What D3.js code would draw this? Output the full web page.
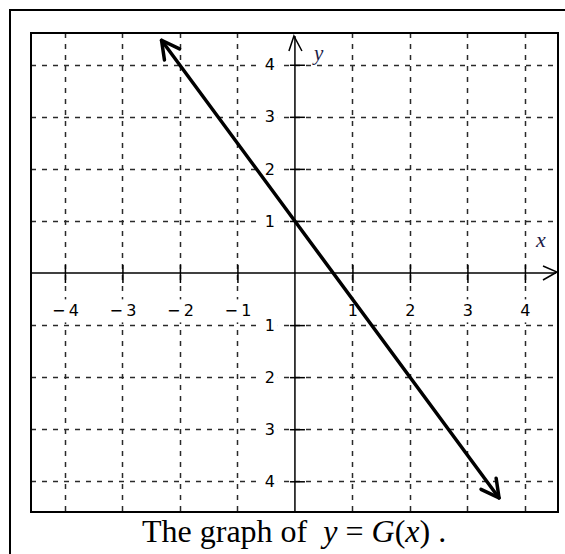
<!DOCTYPE html>
<html><head><meta charset="utf-8">
<script src="https://cdn.jsdelivr.net/npm/d3@7"></script>
<style>
html,body{margin:0;padding:0;background:#fff;}
svg{display:block;}
</style></head>
<body>
<script>
// ---- data ----
const xDomain = [-4.59, 4.575];
const yDomain = [-4.59, 4.61];
const xTicks = [-4, -3, -2, -1, 1, 2, 3, 4];
const xTickLabels = ["\u2212\u20094", "\u2212\u20093", "\u2212\u20092", "\u2212\u20091", "1", "2", "3", "4"];
const yTicks = [4, 3, 2, 1, -1, -2, -3, -4];
const yTickLabels = ["4", "3", "2", "1", "1", "2", "3", "4"];
const linePoints = [[-2.32, 4.47], [3.55, -4.32]];
const xAxisLabel = "x";
const yAxisLabel = "y";

const W = 565, H = 554;
const plot = {left: 31, right: 558, top: 33, bottom: 512};

const svg = d3.select("body").append("svg").attr("width", W).attr("height", H);
svg.append("rect").attr("width", W).attr("height", H).attr("fill", "#fff");

// outer frame
svg.append("rect").attr("x", 10).attr("y", 10).attr("width", 570).attr("height", 560)
  .attr("fill", "none").attr("stroke", "#000").attr("stroke-width", 2);

const x = d3.scaleLinear().domain(xDomain).range([plot.left, plot.right]);
const y = d3.scaleLinear().domain(yDomain).range([plot.bottom, plot.top]);

// grid
const grid = svg.append("g").attr("stroke", "#2a2a2a").attr("stroke-width", 1.5)
  .attr("stroke-dasharray", "5,6");
grid.selectAll("line.v").data(xTicks).join("line").attr("class", "v")
  .attr("x1", d => Math.round(x(d)) + 0.5).attr("x2", d => Math.round(x(d)) + 0.5)
  .attr("y1", plot.top).attr("y2", plot.bottom);
grid.selectAll("line.h").data(yTicks).join("line").attr("class", "h")
  .attr("y1", d => Math.round(y(d)) + 0.5).attr("y2", d => Math.round(y(d)) + 0.5)
  .attr("x1", plot.left).attr("x2", plot.right);

const x0 = x(0), y0 = y(0);
const labelFont = "'DejaVu Sans',sans-serif";

// x axis ticks + labels
const gx = svg.append("g").attr("transform", `translate(0,${y0})`)
  .call(d3.axisBottom(x).tickValues(xTicks).tickFormat((d, i) => xTickLabels[i])
    .tickSize(10).tickPadding(22));
gx.select(".domain").remove();
gx.selectAll(".tick line").attr("y1", -8).attr("stroke", "#000").attr("stroke-width", 1.5);
gx.selectAll(".tick text").attr("font-family", labelFont).attr("font-size", 16).attr("fill", "#000");

// y axis ticks + labels
const gy = svg.append("g").attr("transform", `translate(${x0},0)`)
  .call(d3.axisLeft(y).tickValues(yTicks).tickFormat((d, i) => yTickLabels[i])
    .tickSize(5).tickPadding(15));
gy.select(".domain").remove();
gy.selectAll(".tick line").attr("x2", 10).attr("x1", -5).attr("stroke", "#000").attr("stroke-width", 1.5);
gy.selectAll(".tick text").attr("font-family", labelFont).attr("font-size", 16).attr("fill", "#000");

// white knock-out behind labels
[gx, gy].forEach(g => {
  g.selectAll(".tick text").each(function() {
    const b = this.getBBox();
    d3.select(this.parentNode).insert("rect", "text")
      .attr("x", b.x - 3).attr("y", b.y - 2).attr("width", b.width + 6).attr("height", b.height + 4)
      .attr("fill", "#fff");
  });
});

// axis lines
const axes = svg.append("g").attr("stroke", "#000").attr("stroke-width", 1.5).attr("fill", "none");
axes.append("line").attr("x1", plot.left).attr("x2", 556).attr("y1", y0).attr("y2", y0);
axes.append("line").attr("x1", x0).attr("x2", x0).attr("y1", plot.bottom).attr("y2", 36);
// arrowheads
axes.append("path").attr("d", `M543,${y0 - 7} L557,${y0 - 1} L543,${y0 + 7}`);
axes.append("path").attr("d", `M${x0 - 6},51 L${x0 - 1},36 L${x0 + 7},51`);

// axis name labels
svg.append("text").attr("x", 314).attr("y", 60).attr("font-family", "'Liberation Serif','Times New Roman',serif")
  .attr("font-style", "italic").attr("font-size", 21).attr("fill", "#1c1c48").text(yAxisLabel);
svg.append("text").attr("x", 536).attr("y", 247).attr("font-family", "'Liberation Serif','Times New Roman',serif")
  .attr("font-style", "italic").attr("font-size", 22).attr("fill", "#1c1c48").text(xAxisLabel);

// graph line with arrowheads
const pts = linePoints.map(p => [x(p[0]), y(p[1])]);
const lg = svg.append("g").attr("stroke", "#000").attr("stroke-width", 3.5).attr("fill", "none")
  .attr("stroke-linecap", "round").attr("stroke-linejoin", "round");
lg.append("path").attr("d", d3.line()(pts));
function head(tip, from) {
  const ang = Math.atan2(from[1] - tip[1], from[0] - tip[0]);
  const L = 20, a = 28 * Math.PI / 180;
  const p1 = [tip[0] + L * Math.cos(ang + a), tip[1] + L * Math.sin(ang + a)];
  const p2 = [tip[0] + L * Math.cos(ang - a), tip[1] + L * Math.sin(ang - a)];
  lg.append("path").attr("d", `M${p1} L${tip} L${p2}`);
}
head(pts[0], pts[1]);
head(pts[1], pts[0]);

// plot frame
svg.append("rect").attr("x", plot.left).attr("y", plot.top)
  .attr("width", plot.right - plot.left).attr("height", plot.bottom - plot.top)
  .attr("fill", "none").attr("stroke", "#000").attr("stroke-width", 2);

// caption
const cap = svg.append("text").attr("x", 142).attr("y", 542)
  .attr("font-family", "'Liberation Serif','Times New Roman',serif").attr("font-size", 32).attr("fill", "#000")
  .attr("xml:space", "preserve");
cap.append("tspan").text("The graph of  ");
cap.append("tspan").attr("font-style", "italic").text("y");
cap.append("tspan").text(" = ");
cap.append("tspan").attr("font-style", "italic").text("G");
cap.append("tspan").text("(");
cap.append("tspan").attr("font-style", "italic").text("x");
cap.append("tspan").text(") .");
</script>
</body></html>
